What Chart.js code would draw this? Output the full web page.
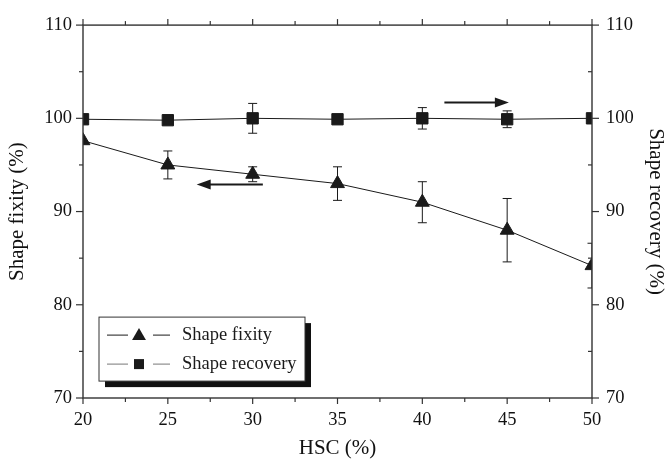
<!DOCTYPE html>
<html>
<head>
<meta charset="utf-8">
<script src="https://cdn.jsdelivr.net/npm/chart.js@4.4.1/dist/chart.umd.min.js"></script>
<style>
  html, body { margin: 0; padding: 0; background: #fff; }
</style>
</head>
<body>
<canvas id="grafica" width="670" height="462"></canvas>
<script>
// Datos: contenido de HSC (%) frente a fijación y recuperación de forma
const hsc = [20, 25, 30, 35, 40, 45, 50];
const fixity = [97.6, 95.0, 94.0, 93.0, 91.0, 88.0, 84.2];
const fixityErr = [0, 1.5, 0.8, 1.8, 2.2, 3.4, 2.4];
const recovery = [99.9, 99.8, 100.0, 99.9, 100.0, 99.9, 100.0];
const recoveryErr = [0, 0, 1.6, 0, 1.15, 0.9, 0];
const xTicks = [20, 25, 30, 35, 40, 45, 50];
const yTicks = [70, 80, 90, 100, 110];

const familia = '"Liberation Serif", "Times New Roman", serif';
const fuente = { family: familia, size: 18.5 };
const fuenteTitulo = { family: familia, size: 21 };
const tinta = '#1a1a1a';

function linea(ctx, x1, y1, x2, y2) {
    ctx.beginPath();
    ctx.moveTo(x1, y1);
    ctx.lineTo(x2, y2);
    ctx.stroke();
}

function triangulo(ctx, x, y, r) {
    ctx.beginPath();
    ctx.moveTo(x, y - r);
    ctx.lineTo(x + r * 0.866, y + r / 2);
    ctx.lineTo(x - r * 0.866, y + r / 2);
    ctx.closePath();
    ctx.fill();
}

function flecha(ctx, x1, x2, y) {
    // cuerpo grueso y punta rellena hacia x2
    const dir = Math.sign(x2 - x1);
    ctx.lineWidth = 2;
    linea(ctx, x1, y, x2 - dir * 10, y);
    ctx.beginPath();
    ctx.moveTo(x2, y);
    ctx.lineTo(x2 - dir * 14, y - 5);
    ctx.lineTo(x2 - dir * 14, y + 5);
    ctx.closePath();
    ctx.fill();
}

// Barras de error, debajo de líneas y marcadores
const barrasError = {
    id: 'barrasError',
    beforeDatasetsDraw(chart) {
        const { ctx, chartArea: a, scales } = chart;
        const series = [[fixity, fixityErr], [recovery, recoveryErr]];
        ctx.save();
        ctx.beginPath();
        ctx.rect(a.left, a.top, a.right - a.left, a.bottom - a.top);
        ctx.clip();
        ctx.strokeStyle = tinta;
        ctx.lineWidth = 1;
        series.forEach(([vals, errs]) => {
            hsc.forEach((h, i) => {
                if (!errs[i]) return;
                const px = scales.x.getPixelForValue(h);
                const top = scales.y.getPixelForValue(vals[i] + errs[i]);
                const bot = scales.y.getPixelForValue(vals[i] - errs[i]);
                linea(ctx, px, top, px, bot);
                linea(ctx, px - 4.5, top, px + 4.5, top);
                linea(ctx, px - 4.5, bot, px + 4.5, bot);
            });
        });
        ctx.restore();
    }
};

// Marco, marcas de los ejes, flechas y leyenda con sombra
const marcoEjes = {
    id: 'marcoEjes',
    afterDraw(chart) {
        const { ctx, chartArea: a, scales } = chart;
        ctx.save();
        ctx.strokeStyle = '#333';
        ctx.fillStyle = tinta;
        ctx.lineWidth = 1.4;
        ctx.strokeRect(a.left, a.top, a.right - a.left, a.bottom - a.top);

        ctx.lineWidth = 1.2;
        for (let v = 70; v <= 110; v += 5) {
            const py = scales.y.getPixelForValue(v);
            if (v % 10 === 0) {
                linea(ctx, a.left - 7, py, a.left, py);
                linea(ctx, a.right, py, a.right + 7, py);
            } else {
                linea(ctx, a.left - 4, py, a.left, py);
                linea(ctx, a.right - 4, py, a.right, py);
            }
        }
        for (let v = 20; v <= 50; v += 2.5) {
            const px = scales.x.getPixelForValue(v);
            const len = v % 5 === 0 ? 6 : 4;
            linea(ctx, px, a.bottom, px, a.bottom + len);
            linea(ctx, px, a.top - len, px, a.top);
        }

        // flechas que indican el eje de cada serie
        ctx.strokeStyle = tinta;
        flecha(ctx, scales.x.getPixelForValue(30.6), scales.x.getPixelForValue(26.7), scales.y.getPixelForValue(92.9));
        flecha(ctx, scales.x.getPixelForValue(41.3), scales.x.getPixelForValue(45.1), scales.y.getPixelForValue(101.7));

        // leyenda
        const lx = a.left + 16, ly = a.top + 292, lw = 206, lh = 64;
        ctx.fillStyle = '#111';
        ctx.fillRect(lx + 6, ly + 6, lw, lh);
        ctx.fillStyle = '#fff';
        ctx.fillRect(lx, ly, lw, lh);
        ctx.strokeStyle = '#333';
        ctx.lineWidth = 1;
        ctx.strokeRect(lx, ly, lw, lh);

        ctx.font = `${fuente.size}px ${fuente.family}`;
        ctx.textBaseline = 'middle';
        chart.data.datasets.forEach((ds, i) => {
            const y = ly + 18 + i * 29;
            ctx.strokeStyle = i === 0 ? tinta : '#777';
            ctx.lineWidth = 1;
            linea(ctx, lx + 8, y, lx + 29, y);
            linea(ctx, lx + 54, y, lx + 71, y);
            ctx.fillStyle = tinta;
            if (ds.pointStyle === 'triangle') triangulo(ctx, lx + 40, y + 1, 8);
            else ctx.fillRect(lx + 35, y - 5, 10, 10);
            ctx.fillText(ds.label, lx + 83, y);
        });
        ctx.restore();
    }
};

function ejeY(position, width, padding, titulo, tPad) {
    return {
        type: 'linear', position, min: 70, max: 110,
        afterFit: s => { s.width = width; },
        afterBuildTicks: s => { s.ticks = yTicks.map(v => ({ value: v })); },
        grid: { display: false, drawTicks: false },
        border: { display: false },
        ticks: { padding, font: fuente, color: '#111' },
        title: { display: true, text: titulo, font: fuenteTitulo, color: '#111', padding: { top: tPad, bottom: 0 } }
    };
}

const ctx = document.getElementById('grafica').getContext('2d');
new Chart(ctx, {
    type: 'line',
    data: {
        datasets: [{
            label: 'Shape fixity',
            data: hsc.map((x, i) => ({ x, y: fixity[i] })),
            yAxisID: 'y',
            borderColor: tinta, backgroundColor: tinta, borderWidth: 1,
            pointStyle: 'triangle', pointRadius: 8, pointBorderWidth: 1,
            pointBorderColor: tinta, pointBackgroundColor: tinta
        }, {
            label: 'Shape recovery',
            data: hsc.map((x, i) => ({ x, y: recovery[i] })),
            yAxisID: 'y2',
            borderColor: tinta, backgroundColor: tinta, borderWidth: 1,
            pointStyle: 'rect', pointRadius: 8, pointBorderWidth: 1,
            pointBorderColor: tinta, pointBackgroundColor: tinta
        }]
    },
    options: {
        responsive: false,
        animation: false,
        layout: { padding: { top: 20, left: 0, right: 0, bottom: 0 } },
        plugins: { legend: { display: false }, tooltip: { enabled: false } },
        scales: {
            x: {
                type: 'linear', min: 20, max: 50,
                afterFit: s => { s.height = 64; },
                afterBuildTicks: s => { s.ticks = xTicks.map(v => ({ value: v })); },
                grid: { display: false, drawTicks: false },
                border: { display: false },
                ticks: { padding: 11, font: fuente, color: '#111', maxRotation: 0 },
                title: { display: true, text: 'HSC (%)', font: fuenteTitulo, color: '#111', padding: { top: 0, bottom: 1 } }
            },
            y: ejeY('left', 83, 11, 'Shape fixity (%)', 5),
            y2: ejeY('right', 78, 14, 'Shape recovery (%)', 2)
        }
    },
    plugins: [barrasError, marcoEjes]
});
</script>
</body>
</html>
